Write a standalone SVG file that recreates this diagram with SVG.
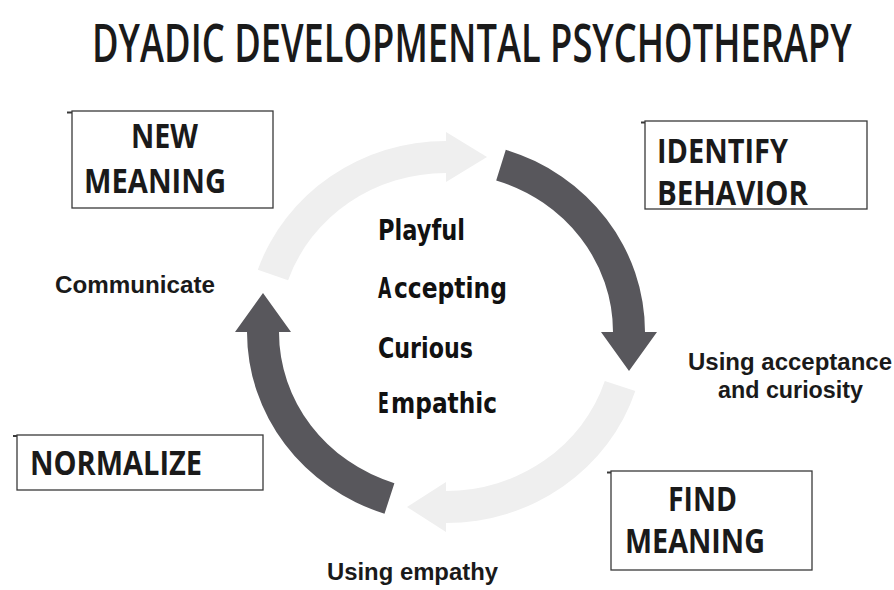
<svg xmlns="http://www.w3.org/2000/svg" width="894" height="590" viewBox="0 0 894 590">
  <style>
    .title { font-family: "Open Sans", "DejaVu Sans", sans-serif; font-size: 52px; font-weight: 600; fill: #1a1a1a; }
    .box { fill: #ffffff; stroke: #3a3a3a; stroke-width: 1.3; }
    .tick { stroke: #3a3a3a; stroke-width: 2; }
    .boxtext { font-family: "Open Sans", "DejaVu Sans", sans-serif; font-size: 34px; font-weight: 700; fill: #1a1a1a; }
    .label { font-family: "Liberation Sans", Arial, sans-serif; font-size: 23px; font-weight: bold; fill: #1a1a1a; }
    .pace { font-family: "DejaVu Sans", "Noto Sans", sans-serif; font-size: 29px; font-weight: bold; fill: #111111; }
    .dark { fill: #58575c; }
    .light { fill: #efefef; }
  </style>

  <rect width="894" height="590" fill="#ffffff"/>

  <!-- heading, condensed horizontally -->
  <text class="title" transform="translate(92 62) scale(0.72 1)" x="0" y="0" textLength="1055" lengthAdjust="spacingAndGlyphs">DYADIC DEVELOPMENTAL PSYCHOTHERAPY</text>

  <!-- cycle arrows: ellipse centre (446,332), radii 183 x 175, band 32 wide -->
  <g id="connectors">
    <path id="arrow-identify" class="dark" d="M 505.8 149.8 A 199 191 0 0 1 645 332 L 657 332 L 629 371 L 601 332 L 613 332 A 167 159 0 0 0 496.2 180.4 Z"/>
    <path id="arrow-find" class="light" d="M 635.3 391 A 199 191 0 0 1 446 523 L 446 532 L 407 507 L 446 482 L 446 491 A 167 159 0 0 0 604.8 381.1 Z"/>
    <path id="arrow-normalize" class="dark" d="M 384.5 513.7 A 199 191 0 0 1 247 332 L 235 332 L 263 293 L 291 332 L 279 332 A 167 159 0 0 0 394.4 483.2 Z"/>
    <path id="arrow-meaning" class="light" d="M 257.8 269.8 A 199 191 0 0 1 446 141 L 446 132 L 487 157 L 446 182 L 446 173 A 167 159 0 0 0 288.1 280.2 Z"/>
  </g>

  <g id="new-meaning">
    <rect class="box" x="72" y="111" width="201" height="97"/>
    <line class="tick" x1="67" y1="112.5" x2="72" y2="112.5"/>
    <text class="boxtext" x="131" y="148" textLength="67" lengthAdjust="spacingAndGlyphs">NEW</text>
    <text class="boxtext" x="84" y="193" textLength="142" lengthAdjust="spacingAndGlyphs">MEANING</text>
  </g>

  <g id="identify-behavior">
    <rect class="box" x="645" y="121" width="222" height="88"/>
    <line class="tick" x1="641" y1="122.5" x2="645" y2="122.5"/>
    <text class="boxtext" x="657" y="163" textLength="131" lengthAdjust="spacingAndGlyphs">IDENTIFY</text>
    <text class="boxtext" x="657" y="205" textLength="151" lengthAdjust="spacingAndGlyphs">BEHAVIOR</text>
  </g>

  <g id="find-meaning">
    <rect class="box" x="611" y="471" width="201" height="99"/>
    <line class="tick" x1="607" y1="472.5" x2="611" y2="472.5"/>
    <text class="boxtext" x="668" y="511" textLength="69" lengthAdjust="spacingAndGlyphs">FIND</text>
    <text class="boxtext" x="625" y="553" textLength="140" lengthAdjust="spacingAndGlyphs">MEANING</text>
  </g>

  <g id="normalize">
    <rect class="box" x="17" y="435" width="246" height="55"/>
    <line class="tick" x1="13" y1="436" x2="17" y2="436"/>
    <text class="boxtext" x="30" y="475" textLength="172" lengthAdjust="spacingAndGlyphs">NORMALIZE</text>
  </g>

  <g id="edge-labels">
    <text class="label" x="55" y="293" textLength="160" lengthAdjust="spacingAndGlyphs">Communicate</text>
    <text class="label" x="688" y="370" textLength="204" lengthAdjust="spacingAndGlyphs">Using acceptance</text>
    <text class="label" x="718" y="398" textLength="145" lengthAdjust="spacingAndGlyphs">and curiosity</text>
    <text class="label" x="327" y="580" textLength="171" lengthAdjust="spacingAndGlyphs">Using empathy</text>
  </g>

  <!-- P.A.C.E. words; initials of the second and fourth set slightly apart -->
  <g id="pace">
    <text class="pace" x="378" y="240" textLength="87" lengthAdjust="spacingAndGlyphs">Playful</text>
    <text class="pace" transform="translate(378 298) scale(0.6 1)" x="0" y="0">A</text>
    <text class="pace" x="394" y="298" textLength="113" lengthAdjust="spacingAndGlyphs">ccepting</text>
    <text class="pace" x="378" y="358" textLength="95" lengthAdjust="spacingAndGlyphs">Curious</text>
    <text class="pace" transform="translate(378 413) scale(0.55 1)" x="0" y="0">E</text>
    <text class="pace" x="391" y="413" textLength="106" lengthAdjust="spacingAndGlyphs">mpathic</text>
  </g>
</svg>
